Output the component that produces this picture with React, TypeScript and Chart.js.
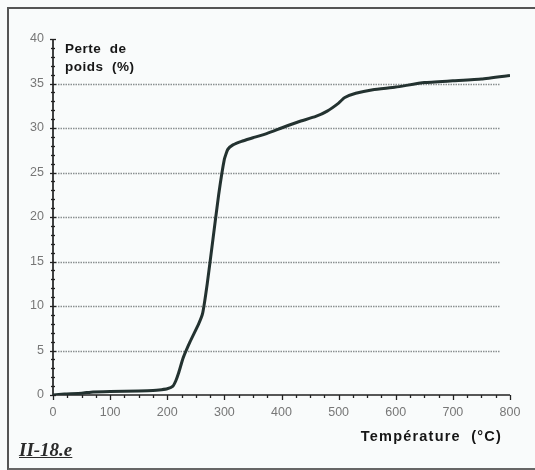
import React, { useEffect, useRef } from "react";
import { Chart, registerables } from "chart.js";

Chart.register(...registerables);

const temperatures = [0, 20, 50, 70, 100, 150, 175, 190, 200, 210, 215, 220, 228, 240, 255, 262, 270, 280, 290, 300, 306, 315, 330, 350, 375, 400, 430, 460, 480, 500, 510, 530, 560, 600, 650, 700, 750, 800];
const weightLoss = [0, 0.1, 0.2, 0.35, 0.4, 0.45, 0.5, 0.6, 0.7, 1.0, 1.6, 2.5, 4.2, 6.0, 8.0, 9.2, 12.5, 17.5, 22.5, 26.5, 27.6, 28.1, 28.5, 28.9, 29.4, 30.0, 30.7, 31.3, 31.9, 32.8, 33.4, 33.9, 34.3, 34.6, 35.1, 35.3, 35.5, 35.9];
const gridValues = [5, 10, 15, 20, 25, 30, 35];
const yTitleLines = ["Perte  de", "poids  (%)"];
const xTitle = "Température  (°C)";
const figureLabel = "II-18.e";

const decorPlugin = {
  id: "decor",
  beforeDatasetsDraw(chart: any) {
    const { ctx, scales, chartArea } = chart;
    const x = scales.x;
    const y = scales.y;
    ctx.save();
    ctx.strokeStyle = "#8a8f90";
    ctx.lineWidth = 1.3;
    ctx.setLineDash([1.5, 1]);
    gridValues.forEach((v) => {
      const py = Math.round(y.getPixelForValue(v)) + 0.5;
      ctx.beginPath();
      ctx.moveTo(chartArea.left, py);
      ctx.lineTo(chartArea.right - 10, py);
      ctx.stroke();
    });
    ctx.setLineDash([]);
    ctx.strokeStyle = "#222";
    ctx.lineWidth = 1.3;
    for (let v = 0; v <= 40; v += 1) {
      const py = Math.round(y.getPixelForValue(v)) + 0.5;
      const major = v % 5 === 0;
      ctx.beginPath();
      ctx.moveTo(chartArea.left - (major ? 3 : 2), py);
      ctx.lineTo(chartArea.left + (major ? 3 : 2), py);
      ctx.stroke();
    }
    for (let v = 0; v <= 800; v += 25) {
      const px = Math.round(x.getPixelForValue(v)) + 0.5;
      const major = v % 100 === 0;
      ctx.beginPath();
      ctx.moveTo(px, chartArea.bottom);
      ctx.lineTo(px, chartArea.bottom + (major ? 5 : 3));
      ctx.stroke();
    }
    ctx.lineWidth = 1.7;
    ctx.beginPath();
    ctx.moveTo(chartArea.left, chartArea.top);
    ctx.lineTo(chartArea.left, chartArea.bottom);
    ctx.lineTo(chartArea.right, chartArea.bottom);
    ctx.stroke();
    ctx.fillStyle = "#161616";
    ctx.font = "bold 13.5px 'Liberation Sans', Arial, sans-serif";
    ctx.textBaseline = "middle";
    ctx.textAlign = "left";
    (ctx as any).letterSpacing = "0.5px";
    ctx.fillText(yTitleLines[0], chartArea.left + 12, 49);
    ctx.fillText(yTitleLines[1], chartArea.left + 12, 67);
    ctx.textAlign = "right";
    (ctx as any).letterSpacing = "1.2px";
    ctx.font = "bold 14.5px 'Liberation Sans', Arial, sans-serif";
    ctx.fillText(xTitle, chartArea.right - 8, 437);
    (ctx as any).letterSpacing = "0px";
    ctx.restore();
  },
};

export default function App() {
  const canvasRef = useRef<HTMLCanvasElement | null>(null);

  useEffect(() => {
    if (!canvasRef.current) return;
    const chart = new Chart(canvasRef.current, {
      type: "scatter",
      data: {
        datasets: [
          {
            data: temperatures.map((t, i) => ({ x: t, y: weightLoss[i] })),
            showLine: true,
            borderColor: "#233230",
            borderWidth: 3,
            pointRadius: 0,
            tension: 0.15,
            fill: false,
          },
        ],
      },
      options: {
        animation: false,
        responsive: false,
        maintainAspectRatio: false,
        layout: { padding: { left: 0, top: 39, right: 25, bottom: 0 } },
        plugins: { legend: { display: false }, tooltip: { enabled: false } },
        scales: {
          x: {
            type: "linear",
            min: 0,
            max: 800,
            afterFit: (s: any) => {
              s.height = 75;
            },
            ticks: {
              stepSize: 100,
              color: "#777",
              padding: 10,
              font: { family: "'Liberation Sans', Arial, sans-serif", size: 12.5 },
              maxRotation: 0,
            },
            grid: { display: false, drawTicks: false },
            border: { display: false },
          },
          y: {
            min: 0,
            max: 40,
            afterFit: (s: any) => {
              s.width = 53;
            },
            ticks: {
              stepSize: 5,
              color: "#777",
              padding: 9,
              font: { family: "'Liberation Sans', Arial, sans-serif", size: 12.5 },
            },
            grid: { display: false, drawTicks: false },
            border: { display: false },
          },
        },
      },
      plugins: [decorPlugin],
    });
    return () => chart.destroy();
  }, []);

  return (
    <div style={{ position: "absolute", left: 0, top: 0, width: 535, height: 470, background: "#f9fbfb", overflow: "hidden" }}>
      <div
        style={{
          position: "absolute",
          left: 7,
          top: 7,
          width: 540,
          height: 459,
          borderTop: "2px solid #555",
          borderLeft: "2px solid #555",
          borderBottom: "2px solid #666",
        }}
      />
      <canvas ref={canvasRef} width={535} height={470} style={{ position: "absolute", left: 0, top: 0 }} />
      <div
        style={{
          position: "absolute",
          left: 19,
          top: 439,
          fontFamily: "'Liberation Serif', 'Times New Roman', serif",
          fontWeight: "bold",
          fontStyle: "italic",
          fontSize: 19,
          textDecoration: "underline",
          color: "#2a2a2a",
          lineHeight: "21px",
        }}
      >
        {figureLabel}
      </div>
    </div>
  );
}
